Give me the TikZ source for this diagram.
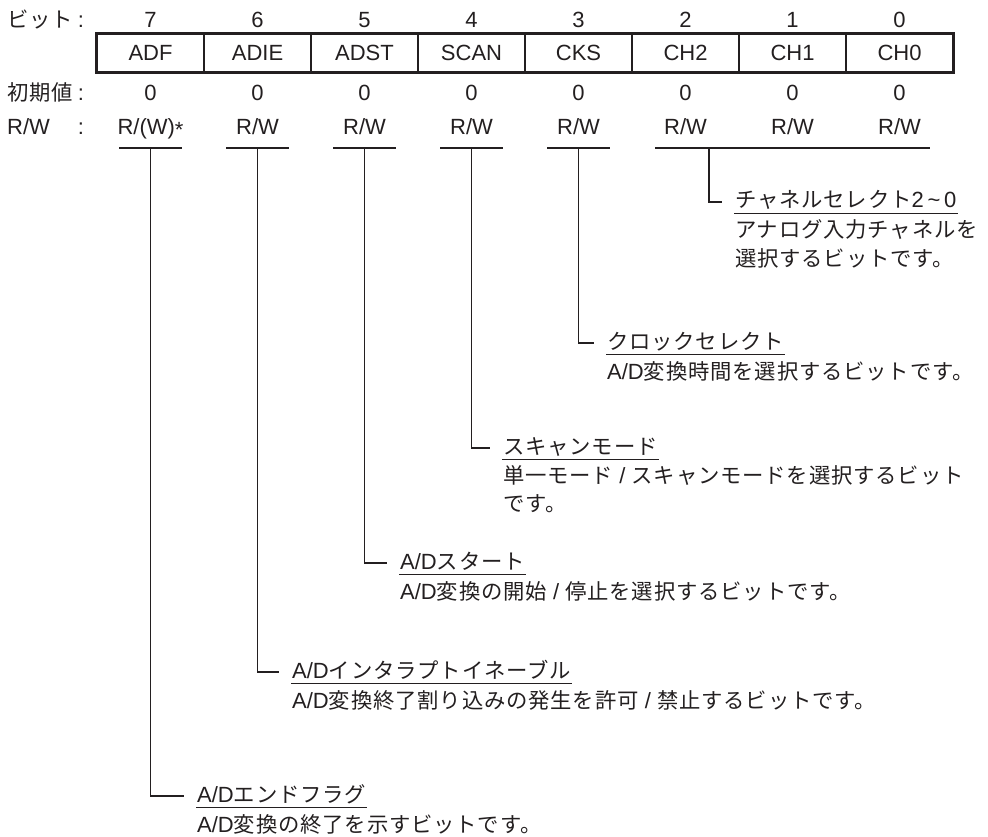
\documentclass[tikz,border=0pt]{standalone}
\usepackage{fontspec}
\setmainfont{Liberation Sans}
\newfontfamily\jp[Scale=0.97,LetterSpace=4]{Noto Sans CJK JP}
\usetikzlibrary{positioning}
\definecolor{ink}{HTML}{231F20}

\begin{document}
\begin{tikzpicture}[
  x=1pt,y=-1pt,
  line cap=butt,line join=miter,
  font=\fontsize{22}{28}\selectfont,text=ink,
  val/.style={inner sep=0pt,text height=16pt,text depth=0pt},
  cell/.style={draw=ink,line width=1.2pt,minimum width=107pt,minimum height=38pt,
               inner sep=0pt,text height=16pt,text depth=0pt},
  frame/.style={draw=ink,line width=2.2pt},
  title/.style={anchor=west,inner sep=1pt,text height=16pt,text depth=4pt},
  desc/.style={anchor=base west,inner sep=1pt},
  rule/.style={draw=ink,line width=1.3pt},
  link/.style={draw=ink,line width=1.2pt,shorten >=12pt}
]
\useasboundingbox (0,0) rectangle (988,837);

% Row heads
\node[val,anchor=west] (hbit) at (7,20) {\jp ビット};
\node[val] (kbit) at (81,20) {:};
\node[val,anchor=west] (hini) at (7,93) {\jp 初期値};
\node[val] (kini) at (81,93) {:};
\node[val,anchor=west] (hrw) at (7,127) {R/W};
\node[val] (krw) at (81,127) {:};

% Bit numbers
\node[val] (b7) at (150.5,20) {7};
\node[val] (b6) at (257.5,20) {6};
\node[val] (b5) at (364.5,20) {5};
\node[val] (b4) at (471.5,20) {4};
\node[val] (b3) at (578.5,20) {3};
\node[val] (b2) at (685.5,20) {2};
\node[val] (b1) at (792.5,20) {1};
\node[val] (b0) at (899.5,20) {0};

% Register cells
\node[cell] (c7) at (150.5,53) {ADF};
\node[cell] (c6) at (257.5,53) {ADIE};
\node[cell] (c5) at (364.5,53) {ADST};
\node[cell] (c4) at (471.5,53) {SCAN};
\node[cell] (c3) at (578.5,53) {CKS};
\node[cell] (c2) at (685.5,53) {CH2};
\node[cell] (c1) at (792.5,53) {CH1};
\node[cell] (c0) at (899.5,53) {CH0};
\draw[frame] (c7.north west) rectangle (c0.south east);

% Initial values
\node[val] (i7) at (150.5,93) {0};
\node[val] (i6) at (257.5,93) {0};
\node[val] (i5) at (364.5,93) {0};
\node[val] (i4) at (471.5,93) {0};
\node[val] (i3) at (578.5,93) {0};
\node[val] (i2) at (685.5,93) {0};
\node[val] (i1) at (792.5,93) {0};
\node[val] (i0) at (899.5,93) {0};

% Access
\node[val] (r7) at (150.5,127) {R/(W)\raisebox{-0.12em}{*}};
\node[val] (r6) at (257.5,127) {R/W};
\node[val] (r5) at (364.5,127) {R/W};
\node[val] (r4) at (471.5,127) {R/W};
\node[val] (r3) at (578.5,127) {R/W};
\node[val] (r2) at (685.5,127) {R/W};
\node[val] (r1) at (792.5,127) {R/W};
\node[val] (r0) at (899.5,127) {R/W};

% Brackets under the access row
\draw[rule] (119,148) -- (182,148);
\draw[rule] (226,148) -- (289,148);
\draw[rule] (333,148) -- (396,148);
\draw[rule] (440,148) -- (503,148);
\draw[rule] (547,148) -- (610,148);
\draw[rule] (655,148) -- (930,148);
\coordinate (u7) at (150.5,148);
\coordinate (u6) at (257.5,148);
\coordinate (u5) at (364.5,148);
\coordinate (u4) at (471.5,148);
\coordinate (u3) at (578.5,148);
\coordinate (u2) at (709,148);

% Bit descriptions
\node[title] (t2) at (734,202) {{\jp チャネルセレクト}2\,\textasciitilde\,0};
\node[desc] (d2a) at ([yshift=-30pt]t2.base west) {\jp アナログ入力チャネルを};
\node[desc] (d2b) at ([yshift=-28pt]d2a.base west) {\jp 選択するビットです。};

\node[title] (t3) at (606,343) {\jp クロックセレクト};
\node[desc] (d3a) at ([yshift=-30pt]t3.base west) {A/D{\jp 変換時間を選択するビットです。}};

\node[title] (t4) at (502,448) {\jp スキャンモード};
\node[desc] (d4a) at ([yshift=-29pt]t4.base west) {{\jp 単一モード} / {\jp スキャンモードを選択するビット}};
\node[desc] (d4b) at ([yshift=-28pt]d4a.base west) {\jp です。};

\node[title] (t5) at (399,563) {A/D{\jp スタート}};
\node[desc] (d5a) at ([yshift=-30pt]t5.base west) {A/D{\jp 変換の開始} / {\jp 停止を選択するビットです。}};

\node[title] (t6) at (291,672) {A/D{\jp インタラプトイネーブル}};
\node[desc] (d6a) at ([yshift=-30pt]t6.base west) {A/D{\jp 変換終了割り込みの発生を許可} / {\jp 禁止するビットです。}};

\node[title] (t7) at (196,796) {A/D{\jp エンドフラグ}};
\node[desc] (d7a) at ([yshift=-30pt]t7.base west) {A/D{\jp 変換の終了を示すビットです。}};

\draw[rule] (t2.south west) -- (t2.south east);
\draw[rule] (t3.south west) -- (t3.south east);
\draw[rule] (t4.south west) -- (t4.south east);
\draw[rule] (t5.south west) -- (t5.south east);
\draw[rule] (t6.south west) -- (t6.south east);
\draw[rule] (t7.south west) -- (t7.south east);

% Leaders
\draw[link] (u2) |- (t2.west);
\draw[link] (u3) |- (t3.west);
\draw[link] (u4) |- (t4.west);
\draw[link] (u5) |- (t5.west);
\draw[link] (u6) |- (t6.west);
\draw[link] (u7) |- (t7.west);
\end{tikzpicture}
\end{document}
